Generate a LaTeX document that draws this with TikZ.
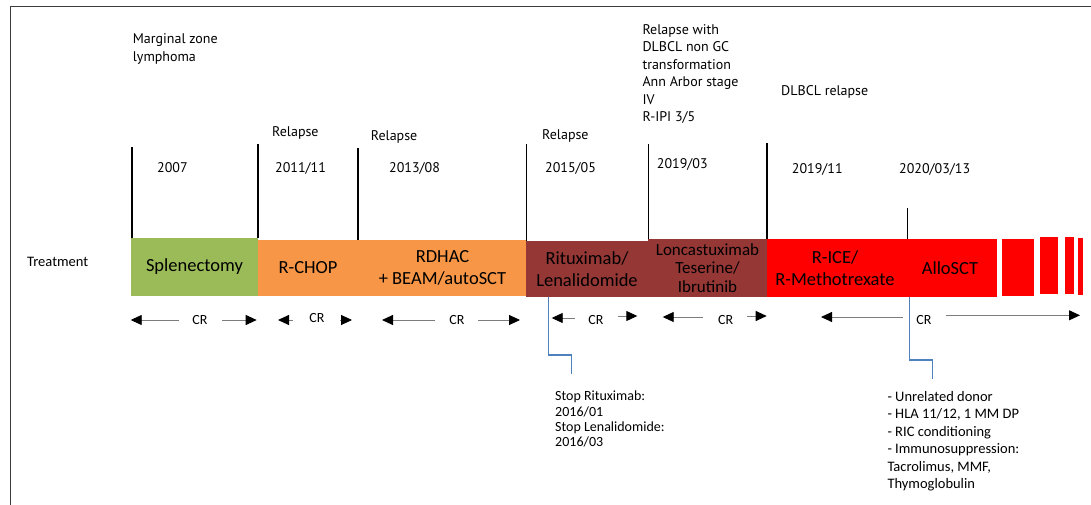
\documentclass[tikz,border=0pt]{standalone}
\usepackage{fontspec}
\setmainfont{Carlito}
\newfontfamily\topfont{PT Sans}
\usetikzlibrary{arrows.meta}
\definecolor{bargreen}{RGB}{155,187,89}
\definecolor{barorange}{RGB}{247,150,70}
\definecolor{bardark}{RGB}{149,55,53}
\definecolor{barred}{RGB}{255,0,0}
\definecolor{connblue}{RGB}{79,129,189}
\definecolor{shaft}{RGB}{125,125,125}
\definecolor{framec}{RGB}{60,60,60}
\begin{document}
\begin{tikzpicture}[x=1pt,y=-1pt,
  bar/.style={anchor=north west, inner sep=0pt, outer sep=0pt, align=center, text=black, font=\fontsize{18.5}{21.5}\selectfont},
  toptxt/.style={anchor=west, inner sep=0pt, align=left, font=\topfont\fontsize{14}{17.5}\selectfont},
  crlab/.style={inner sep=0pt, font=\fontsize{14}{16}\selectfont},
  crarrow/.style={draw=shaft, line width=0.9pt, -{Triangle[length=11pt,width=10pt,color=black]}},
  tickline/.style={draw=black, line width=1.1pt},
  conn/.style={draw=connblue, line width=1.2pt},
  note/.style={anchor=north west, inner sep=0pt, align=left, font=\fontsize{14.5}{17.5}\selectfont}
]
\useasboundingbox (0,0) rectangle (1091,505);
\draw[framec, line width=1pt] (10,505) -- (10,7) -- (1091,7);

% bars
\node[bar, fill=bargreen, minimum width=127pt, minimum height=58pt] (splen) at (131,238) {Splenectomy};
\node[bar, fill=barorange, minimum width=100pt, minimum height=56pt] (rchop) at (258,240) {R-CHOP};
\node[bar, fill=barorange, minimum width=169pt, minimum height=56pt] (rdhac) at (358,240) {RDHAC\\+ BEAM/autoSCT};
\node[bar, fill=bardark, minimum width=122pt, minimum height=56pt] (ritlen) at (526,241) {Rituximab/\\Lenalidomide};
\node[bar, fill=bardark, minimum width=119pt, minimum height=58pt, font=\fontsize{17}{18.5}\selectfont] (lonca) at (648,239) {Loncastuximab\\Teserine/\\Ibrutinib};
\node[bar, fill=barred, minimum width=136pt, minimum height=58pt] (rice) at (767,239) {R-ICE/\\R-Methotrexate};
\node[bar, fill=barred, minimum width=94pt, minimum height=58pt] (allo) at (903,239) {AlloSCT};
\node[bar, fill=barred, minimum width=32pt, minimum height=57pt] (seg1) at (1002,239) {};
\node[bar, fill=barred, minimum width=18pt, minimum height=57pt] (seg2) at (1040,237) {};
\node[bar, fill=barred, minimum width=9pt, minimum height=57pt] (seg3) at (1065,237) {};
\node[bar, fill=barred, minimum width=5pt, minimum height=57pt] (seg4) at (1078,238) {};

\node[anchor=west, inner sep=0pt, font=\fontsize{14.5}{16}\selectfont] (treat) at (27,262) {Treatment};

% ticks
\draw[tickline] ([xshift=1pt]splen.north west) -- ++(0,-91);
\draw[tickline] (splen.north east) -- ++(0,-94);
\draw[tickline] (rdhac.north west) -- ++(0,-92);
\draw[tickline] ([xshift=0.7pt]ritlen.north west) -- ++(0,-97);
\draw[tickline] ([xshift=0.3pt]lonca.north west) -- ++(0,-94.5);
\draw[tickline] (rice.north west) -- ++(0,-96);
\draw[tickline] ([xshift=4.7pt]allo.north west) -- ++(0,-31);

% top labels
\node[toptxt] (mzl) at (132.7,49) {Marginal zone\\lymphoma};
\node[toptxt] (d2007) at (157,168) {2007};
\node[toptxt] (rel1) at (272,133) {Relapse};
\node[toptxt] (d2011) at (275,168) {2011/11};
\node[toptxt] (rel2) at (370.7,136.5) {Relapse};
\node[toptxt] (d2013) at (389,168) {2013/08};
\node[toptxt] (rel3) at (542,136) {Relapse};
\node[toptxt] (d2015) at (545,168) {2015/05};
\node[toptxt] (rel4) at (642.3,74) {Relapse with\\DLBCL non GC\\transformation\\Ann Arbor stage\\IV\\R-IPI 3/5};
\node[toptxt] (d2019a) at (656.7,164) {2019/03};
\node[toptxt] (rel5) at (781,91.7) {DLBCL relapse};
\node[toptxt] (d2019b) at (791.7,169) {2019/11};
\node[toptxt] (d2020) at (899,169) {2020/03/13};

% CR labels
\node[crlab] (cr1) at (200,320) {CR};
\node[crlab] (cr2) at (317,318) {CR};
\node[crlab] (cr3) at (457,320) {CR};
\node[crlab] (cr4) at (596,320) {CR};
\node[crlab] (cr5) at (725.7,320) {CR};
\node[crlab] (cr6) at (924,320) {CR};

% CR arrows
\coordinate (t1l) at (179,320);   \coordinate (h1l) at (130.7,320);
\coordinate (t1r) at (222,320);   \coordinate (h1r) at (256.7,320);
\coordinate (t2l) at (292.7,320); \coordinate (h2l) at (278,320);
\coordinate (t2r) at (340,320);   \coordinate (h2r) at (352,320);
\coordinate (t3l) at (435,320);   \coordinate (h3l) at (382,320);
\coordinate (t3r) at (478,320);   \coordinate (h3r) at (520,320);
\coordinate (t4l) at (575,318);   \coordinate (h4l) at (551.7,318);
\coordinate (t4r) at (618,316);   \coordinate (h4r) at (637.3,316);
\coordinate (t5l) at (703,317);   \coordinate (h5l) at (662.7,317);
\coordinate (t5r) at (747,316);   \coordinate (h5r) at (766.7,316);
\coordinate (t6l) at (902.7,317); \coordinate (h6l) at (821,317);
\coordinate (t6r) at (946,315.3); \coordinate (h6r) at (1080,315.3);
\foreach \i in {1,...,6}{
  \draw[crarrow] (t\i l) -- (h\i l);
  \draw[crarrow] (t\i r) -- (h\i r);
}

% notes
\node[note, font=\fontsize{14}{15.2}\selectfont] (stopnote) at (555,391) {Stop Rituximab:\\2016/01\\Stop Lenalidomide:\\2016/03};
\node[note] (allonote) at (887.3,391) {- Unrelated donor\\- HLA 11/12, 1 MM DP\\- RIC conditioning\\- Immunosuppression:\\Tacrolimus, MMF,\\Thymoglobulin};

% blue connectors
\coordinate (k1) at (571.7,374);
\draw[conn] ([xshift=22.3pt]ritlen.south west) -- ++(0,58) -| (k1);
\coordinate (k2) at (932.7,379.3);
\draw[conn] ([xshift=6.3pt]allo.south west) -- ++(0,63) -| (k2);
\end{tikzpicture}
\end{document}
